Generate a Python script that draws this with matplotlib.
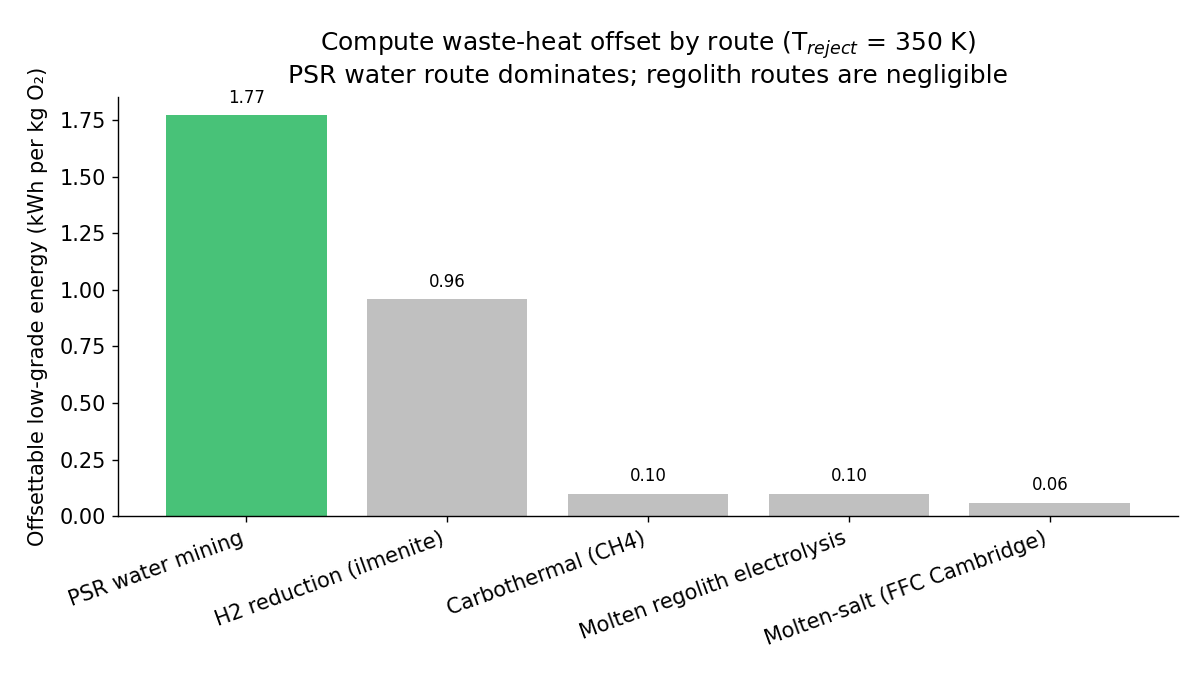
import numpy as np
import matplotlib
matplotlib.use("Agg")
import matplotlib.pyplot as plt

routes = ["PSR water mining", "H2 reduction (ilmenite)", "Carbothermal (CH4)",
          "Molten regolith electrolysis", "Molten-salt (FFC Cambridge)"]
offset_kwh = [1.77, 0.96, 0.10, 0.10, 0.06]
bar_colors = ["#48c278", "#c0c0c0", "#c0c0c0", "#c0c0c0", "#c0c0c0"]

fig, ax = plt.subplots(figsize=(12, 6.75), dpi=100)
x = np.arange(len(routes))
bars = ax.bar(x, offset_kwh, width=0.8, color=bar_colors)
for b, v in zip(bars, offset_kwh):
    ax.annotate(f"{v:.2f}", (b.get_x() + b.get_width() / 2, v),
                xytext=(0, 6), textcoords="offset points",
                ha="center", va="bottom", fontsize=12)

ax.set_xticks(x)
ax.set_xticklabels(routes, rotation=20, ha="right", fontsize=15)
ax.tick_params(axis="both", length=4.2, width=1.0, pad=4.2)
ax.tick_params(axis="y", labelsize=15)
ax.set_ylim(0, 1.85)
ax.set_ylabel("Offsettable low-grade energy (kWh per kg O\u2082)", fontsize=15,
              labelpad=8)
ax.set_title("Compute waste-heat offset by route (T$_{reject}$ = 350 K)\n"
             "PSR water route dominates; regolith routes are negligible",
             fontsize=18, pad=10)
for s in ["left", "bottom"]:
    ax.spines[s].set_linewidth(1.0)
ax.spines["top"].set_visible(False)
ax.spines["right"].set_visible(False)

fig.subplots_adjust(left=0.098, right=0.982, top=0.856, bottom=0.235)
fig.savefig("out.png")
